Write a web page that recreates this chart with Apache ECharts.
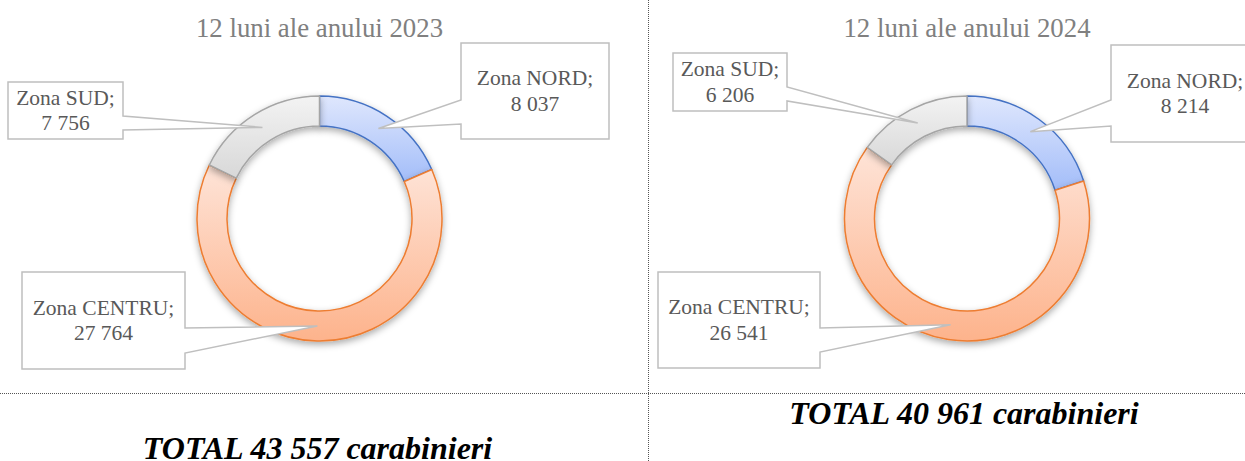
<!DOCTYPE html>
<html><head><meta charset="utf-8">
<script src="https://cdn.jsdelivr.net/npm/echarts@6/dist/echarts.min.js"></script>
<style>html,body{margin:0;padding:0;background:#fff}#c{width:1245px;height:461px}</style>
</head><body><div id="c"></div>
<script>
// ---- data ----
const zones = ['Zona NORD', 'Zona CENTRU', 'Zona SUD'];
const values2023 = [8037, 27764, 7756];
const values2024 = [8214, 26541, 6206];
const chartTitles = ['12 luni ale anului 2023', '12 luni ale anului 2024'];
const totalPrefix = 'TOTAL';
const totalUnit = 'carabinieri';

// ---- layout / style (not data) ----
const SERIF = '"Liberation Serif", "Times New Roman", serif';
const centers = [[319.5, 218.5], [967, 218.5]];
const radius = [92.5, 122.5];
const titlePos = [[319.5, 28], [967, 28]];
const totalPos = [[317.5, 448], [964, 412.5]];
// callout boxes: [x, y, w, h, side, wedgeY1, wedgeY2]
const boxes = [
  [[461, 43, 148, 96, 'left', 100, 124], [22, 272, 163, 97, 'right', 328, 353], [8, 82, 115, 57, 'right', 116, 130]],
  [[1111, 45, 148, 97, 'left', 100, 126], [658, 272, 162, 96, 'right', 328, 352], [673, 53, 114, 58, 'right', 87, 101]]
];
const fills = [
  ['#dfe7fd', '#a3bdf9'],
  ['#fee4d8', '#fdb38c'],
  ['#f3f3f3', '#d8d8d8']
];
const borders = ['#4472c4', '#ed7d31', '#a5a5a5'];

const fmt = n => String(n).replace(/\B(?=(\d{3})+(?!\d))/g, ' ');
const years = [values2023, values2024];

function mkData(vals) {
  return zones.map((z, i) => ({
    name: z, value: vals[i],
    itemStyle: {
      color: new echarts.graphic.LinearGradient(0, 0, 0, 1, [{offset: 0, color: fills[i][0]}, {offset: 1, color: fills[i][1]}]),
      borderColor: borders[i], borderWidth: 1.5,
      shadowBlur: 7, shadowColor: 'rgba(0,0,0,0.33)', shadowOffsetY: 3
    }
  }));
}

const series = [];
years.forEach((vals, k) => {
  series.push({
    type: 'pie', z: 2, center: centers[k], radius: radius, startAngle: 90, clockwise: true,
    avoidLabelOverlap: false, silent: true, label: {show: false}, labelLine: {show: false},
    emphasis: {disabled: true}, data: mkData(vals)
  });
});
years.forEach((vals, k) => {
  series.push({
    type: 'pie', z: 10, center: centers[k], radius: radius, startAngle: 90, clockwise: true,
    avoidLabelOverlap: false, silent: true,
    itemStyle: {color: 'rgba(0,0,0,0)', borderWidth: 0},
    label: {
      show: true, position: 'inside',
      formatter: p => p.name + ';\n' + fmt(p.value),
      fontFamily: SERIF, fontSize: 21.5, lineHeight: 25.5, color: '#595959', align: 'center'
    },
    labelLine: {show: false},
    labelLayout: params => {
      const b = boxes[k][params.dataIndex];
      return {x: b[0] + b[2] / 2, y: b[1] + b[3] / 2, align: 'center', verticalAlign: 'middle'};
    },
    emphasis: {disabled: true},
    data: zones.map((z, i) => ({name: z, value: vals[i]}))
  });
});

const chart = echarts.init(document.getElementById('c'), null, {renderer: 'svg'});

function staticGraphics() {
  const g = [];
  g.push({type: 'line', z: 1, shape: {x1: 0, y1: 393.5, x2: 1245, y2: 393.5}, style: {stroke: '#555', lineWidth: 1, lineDash: [1, 1]}});
  g.push({type: 'line', z: 1, shape: {x1: 648.5, y1: 0, x2: 648.5, y2: 461}, style: {stroke: '#555', lineWidth: 1, lineDash: [1, 1]}});
  chartTitles.forEach((t, k) => {
    g.push({type: 'text', z: 1, x: titlePos[k][0], y: titlePos[k][1],
      style: {text: t, fontFamily: SERIF, fontSize: 26.8, fill: '#808080', align: 'center', verticalAlign: 'middle'}});
  });
  years.forEach((vals, k) => {
    const tot = vals.reduce((a, b) => a + b, 0);
    g.push({type: 'text', z: 1, x: totalPos[k][0], y: totalPos[k][1],
      style: {text: totalPrefix + ' ' + fmt(tot) + ' ' + totalUnit, fontFamily: SERIF, fontSize: 32,
        fontWeight: 'bold', fontStyle: 'italic', fill: '#000', align: 'center', verticalAlign: 'middle'}});
  });
  return g;
}

chart.setOption({animation: false, backgroundColor: '#fff', series: series, graphic: staticGraphics()});

function tipFor(k, i) {
  let l = null;
  try { l = chart.getModel().getSeriesByIndex(k).getData().getItemLayout(i); } catch (e) { l = null; }
  if (!l) return null;
  const mid = (l.startAngle + l.endAngle) / 2;
  const rm = (l.r + l.r0) / 2;
  return [l.cx + rm * Math.cos(mid), l.cy + rm * Math.sin(mid)];
}

const callouts = [];
years.forEach((vals, k) => {
  boxes[k].forEach((b, i) => {
    const tip = tipFor(k, i);
    const [x, y, w, h, side, w1, w2] = b;
    let pts;
    if (!tip) {
      pts = [[x, y], [x + w, y], [x + w, y + h], [x, y + h]];
    } else if (side === 'left') {
      pts = [[x, y], [x + w, y], [x + w, y + h], [x, y + h], [x, w2], tip, [x, w1]];
    } else {
      pts = [[x, y], [x + w, y], [x + w, w1], tip, [x + w, w2], [x + w, y + h], [x, y + h]];
    }
    callouts.push({type: 'polygon', z: 5, shape: {points: pts},
      style: {fill: '#fff', stroke: '#bfbfbf', lineWidth: 1.5, lineJoin: 'miter'}});
  });
});
chart.setOption({graphic: staticGraphics().concat(callouts)}, {replaceMerge: ['graphic']});
</script></body></html>
